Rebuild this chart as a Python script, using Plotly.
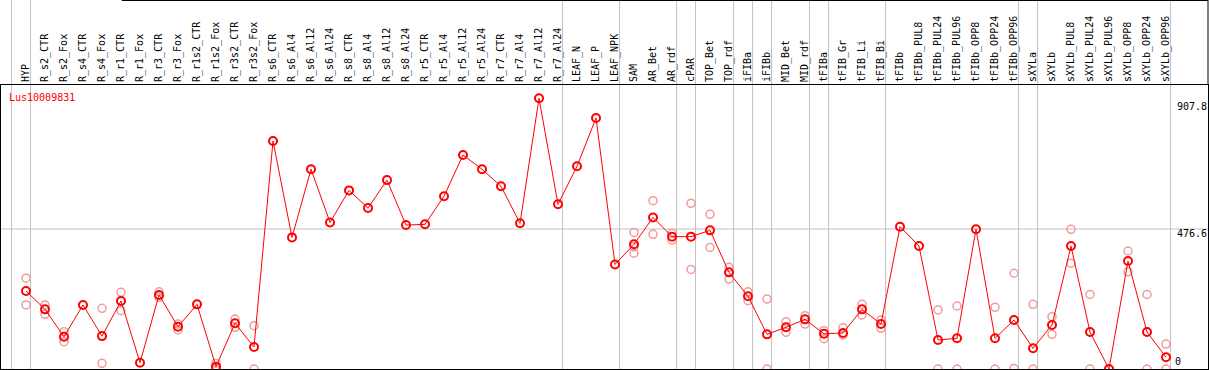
import plotly.graph_objects as go

categories = ["HYP", "R_s2_CTR", "R_s2_Fox", "R_s4_CTR", "R_s4_Fox", "R_r1_CTR", "R_r1_Fox",
              "R_r3_CTR", "R_r3_Fox", "R_r1s2_CTR", "R_r1s2_Fox", "R_r3s2_CTR", "R_r3s2_Fox",
              "R_s6_CTR", "R_s6_Al4", "R_s6_Al12", "R_s6_Al24", "R_s8_CTR", "R_s8_Al4", "R_s8_Al12",
              "R_s8_Al24", "R_r5_CTR", "R_r5_Al4", "R_r5_Al12", "R_r5_Al24", "R_r7_CTR", "R_r7_Al4",
              "R_r7_Al12", "R_r7_Al24", "LEAF_N", "LEAF_P", "LEAF_NPK", "SAM", "AR_Bet", "AR_rdf",
              "cPAR", "TOP_Bet", "TOP_rdf", "iFIBa", "iFIBb", "MID_Bet", "MID_rdf", "tFIBa",
              "tFIB_Gr", "tFIB_Li", "tFIB_Bi", "tFIBb", "tFIBb_PUL8", "tFIBb_PUL24", "tFIBb_PUL96",
              "tFIBb_OPP8", "tFIBb_OPP24", "tFIBb_OPP96", "sXYLa", "sXYLb", "sXYLb_PUL8",
              "sXYLb_PUL24", "sXYLb_PUL96", "sXYLb_OPP8", "sXYLb_OPP24", "sXYLb_OPP96"]

mean_values = [265.5, 203, 110, 218, 112, 231.5, 21.5, 252, 144, 220, 8, 155.5, 75,
               776, 448, 680, 499, 608, 548, 643, 490, 492.5, 588, 728.5, 680, 622, 496,
               921.5, 560.6, 690, 854.5, 356, 424.5, 516, 450.5, 450.5, 472, 329, 247.5,
               118, 142, 169, 120, 122.5, 203, 153, 484.5, 418.7, 98.7, 104.4, 475.5,
               104.4, 166.8, 70.4, 149.8, 418.7, 126, 0, 367.7, 126, 40]

replicate_values = [
    [309, 218], [218, 186], [127, 93], [], [206.5, 19.3], [261, 198.5], [], [263, 244],
    [153, 133], [], [19, 2], [170, 142], [147.5, 0],
    [], [], [], [], [], [], [], [], [], [], [], [], [], [], [], [], [], [], [],
    [465, 416, 394], [573, 458.5], [462, 439], [564, 339], [526.6, 414], [346, 306],
    [263, 232.5], [238, 0], [161, 125], [181.5, 153], [130.5, 103], [140.7, 115.7],
    [220, 184], [167, 138.5], [], [], [201, 0], [214.5, 0], [], [210, 0], [326, 2],
    [220, 0], [178, 118], [475.5, 360], [254, 0], [0], [401.7, 331], [254, 0], [85, 0]]

# indices of the last sample in each group (separator lines drawn just after them)
group_ends = [-1, 0, 28, 31, 34, 35, 37, 38, 39, 41, 42, 45, 52, 53, 60]

y_ticks = [476.6, 907.8]
y_zero_tick = [0]
gene_name = "Lus10009831"

FONT = "DejaVu Sans Mono"
W, H = 1209, 370
M_T, M_B, M_L, M_R = 85, 1, 1, 1
plot_h = H - M_T - M_B

rep_x, rep_y = [], []
for c, reps in zip(categories, replicate_values):
    for v in reps:
        rep_x.append(c)
        rep_y.append(v)

fig = go.Figure()
fig.add_trace(go.Scatter(
    x=rep_x, y=rep_y, mode="markers",
    marker=dict(symbol="circle-open", size=8, color="#ef9c9c", line=dict(width=1.5, color="#ef9c9c")),
    hoverinfo="skip", showlegend=False, cliponaxis=True))
fig.add_trace(go.Scatter(
    x=categories, y=mean_values, mode="lines+markers",
    line=dict(color="#ff0000", width=1),
    marker=dict(symbol="circle-open", size=8, color="#ff0000", line=dict(width=2, color="#ff0000")),
    showlegend=False, cliponaxis=True))
# invisible trace for the second y axis (zero label, drawn a few px above the baseline)
fig.add_trace(go.Scatter(x=[categories[0]], y=[0], yaxis="y2", mode="markers",
                         marker=dict(opacity=0), showlegend=False, hoverinfo="skip"))

y_top = 966.8
px_per_unit = plot_h / y_top
zero_lift = 7.3 / px_per_unit
top_paper = 1 + M_T / plot_h

shapes = []
for i in group_ends:
    shapes.append(dict(type="line", xref="x", yref="paper", x0=i + 0.24, x1=i + 0.24,
                       y0=0, y1=top_paper, line=dict(color="#c0c0c0", width=1), layer="below"))
shapes.append(dict(type="line", xref="paper", yref="y", x0=0, x1=1, y0=y_ticks[0], y1=y_ticks[0],
                   line=dict(color="#c0c0c0", width=1), layer="below"))
# outer frame of label band
shapes.append(dict(type="line", xref="paper", yref="paper", x0=1, x1=1, y0=1, y1=top_paper,
                   line=dict(color="black", width=1)))
shapes.append(dict(type="line", xref="paper", yref="paper", x0=0.1, x1=1, y0=top_paper, y1=top_paper,
                   line=dict(color="black", width=2)))

fig.update_layout(
    template="none",
    width=W, height=H,
    margin=dict(l=M_L, r=M_R, t=M_T, b=M_B, pad=0, autoexpand=False),
    paper_bgcolor="white", plot_bgcolor="white",
    font=dict(family=FONT, size=10, color="black"),
    title=dict(text=gene_name, x=9 / W, xanchor="left", y=1 - 97 / H, yanchor="middle",
               xref="container", yref="container",
               font=dict(family=FONT, size=10, color="#ff0000")),
    xaxis=dict(type="category", categoryorder="array", categoryarray=categories,
               range=[-1.316, 62.21], side="top", tickangle=-90, ticks="", automargin=False,
               showgrid=False, zeroline=False, showline=True, linecolor="black", linewidth=1,
               mirror=True, ticklabelstandoff=0,
               tickfont=dict(family=FONT, size=10, color="black")),
    yaxis=dict(range=[0, y_top], side="right", tickvals=y_ticks, automargin=False,
               ticktext=[str(v) for v in y_ticks], ticklabelposition="inside",
               ticklabelshift=4, ticklabelstandoff=0, ticks="", showgrid=False, zeroline=False,
               showline=True, linecolor="black", linewidth=1, mirror=True,
               tickfont=dict(family=FONT, size=10, color="black")),
    yaxis2=dict(range=[-zero_lift, y_top - zero_lift], overlaying="y", side="right",
                tickvals=y_zero_tick, ticktext=["0\u00a0\u00a0\u00a0\u00a0"],
                ticklabelposition="inside", automargin=False,
                ticklabelstandoff=0, ticks="", showgrid=False, zeroline=False, showline=False,
                tickfont=dict(family=FONT, size=10, color="black")),
    shapes=shapes,
)

fig.write_html("out.html", config={"displayModeBar": False},
               post_script="document.body.style.margin='0px';document.body.style.overflow='hidden';")
